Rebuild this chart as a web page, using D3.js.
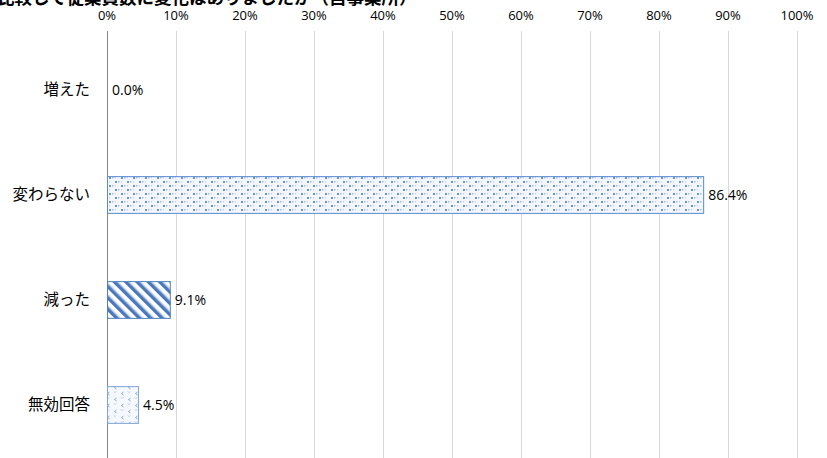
<!DOCTYPE html>
<html>
<head>
<meta charset="utf-8">
<script src="https://cdn.jsdelivr.net/npm/d3@7"></script>
<style>
  body { margin: 0; background: #fff; }
  svg { display: block; }
</style>
</head>
<body>
<div id="chart"></div>
<script>
// data
const categories = ["増えた", "変わらない", "減った", "無効回答"];
const values = [0.0, 86.4, 9.1, 4.5];
const ticks = [0, 10, 20, 30, 40, 50, 60, 70, 80, 90, 100];
const titleText = "比較して従業員数に変化はありましたか（自事業所）";

const width = 827, height = 458;
const plotLeft = 107, plotRight = 797, plotTop = 37.5, plotBottom = 457.5;

const svg = d3.select("#chart").append("svg")
    .attr("width", width)
    .attr("height", height);

// patterns
const defs = svg.append("defs");

const dots = defs.append("pattern")
    .attr("id", "dots").attr("patternUnits", "userSpaceOnUse")
    .attr("width", 12).attr("height", 8);
dots.append("rect").attr("width", 12).attr("height", 8).attr("fill", "#f3f7fc");
dots.append("rect").attr("x", 1).attr("y", 1).attr("width", 2).attr("height", 2).attr("fill", "#6b93cc");
dots.append("rect").attr("x", 7).attr("y", 5).attr("width", 2).attr("height", 2).attr("fill", "#6b93cc");
dots.append("rect").attr("x", 4).attr("y", 1).attr("width", 1.5).attr("height", 1.5).attr("fill", "#a3bde2");
dots.append("rect").attr("x", 10).attr("y", 5).attr("width", 1.5).attr("height", 1.5).attr("fill", "#a3bde2");
dots.append("rect").attr("x", 7).attr("y", 1).attr("width", 1).attr("height", 1.5).attr("fill", "#c0d1ea");
dots.append("rect").attr("x", 1).attr("y", 5).attr("width", 1).attr("height", 1.5).attr("fill", "#c0d1ea");

const stripes = defs.append("pattern")
    .attr("id", "stripes").attr("patternUnits", "userSpaceOnUse")
    .attr("width", 8).attr("height", 8)
    .attr("patternTransform", "rotate(-45)");
stripes.append("rect").attr("width", 8).attr("height", 8).attr("fill", "#ffffff");
stripes.append("rect").attr("x", 0).attr("width", 3.6).attr("height", 8).attr("fill", "#4a78bb");
stripes.append("rect").attr("x", 3.6).attr("width", 0.8).attr("height", 8).attr("fill", "#b5cbe8");

const sparse = defs.append("pattern")
    .attr("id", "sparse").attr("patternUnits", "userSpaceOnUse")
    .attr("width", 14).attr("height", 12);
sparse.append("rect").attr("width", 14).attr("height", 12).attr("fill", "#f5f8fc");
sparse.append("path").attr("d", "M4.5,2 l-2,1.5 l2,1.5").attr("stroke", "#7b9ccf").attr("fill", "none").attr("stroke-width", 0.9);
sparse.append("path").attr("d", "M11.5,8 l-2,1.5 l2,1.5").attr("stroke", "#7b9ccf").attr("fill", "none").attr("stroke-width", 0.9);
sparse.append("path").attr("d", "M9,1.5 l1,1 l1,-1").attr("stroke", "#9ab3dc").attr("fill", "none").attr("stroke-width", 0.8);
sparse.append("path").attr("d", "M2,7.5 l1,1 l1,-1").attr("stroke", "#9ab3dc").attr("fill", "none").attr("stroke-width", 0.8);

const fills = ["url(#dots)", "url(#dots)", "url(#stripes)", "url(#sparse)"];
const strokes = ["#5b8bd0", "#5b8bd0", "#4f80c4", "#7ea4d8"];

// scales
const x = d3.scaleLinear().domain([0, 100]).range([plotLeft, plotRight]);
const y = d3.scaleBand().domain(categories).range([plotTop, plotBottom]).paddingInner(0.65).paddingOuter(0.325);

// title (clipped at the top like the original)
svg.append("text")
    .attr("x", -3).attr("y", 4)
    .attr("font-family", "'Noto Sans CJK JP', sans-serif")
    .attr("font-size", 17.5).attr("font-weight", "bold")
    .attr("fill", "#000")
    .text(titleText);

// gridlines
svg.append("g").selectAll("line")
    .data(ticks)
    .join("line")
    .attr("x1", d => Math.round(x(d)) + 0.5).attr("x2", d => Math.round(x(d)) + 0.5)
    .attr("y1", 31).attr("y2", height)
    .attr("stroke", d => d === 0 ? "#868686" : "#d9d9d9")
    .attr("stroke-width", 1);

// top axis labels
svg.append("g").selectAll("text")
    .data(ticks)
    .join("text")
    .attr("x", d => x(d))
    .attr("y", 20)
    .attr("text-anchor", "middle")
    .attr("font-family", "'Open Sans', sans-serif")
    .attr("font-size", 13)
    .attr("fill", "#000")
    .text(d => d + "%");

// bars
svg.append("g").selectAll("rect")
    .data(values)
    .join("rect")
    .attr("x", x(0) + 0.5)
    .attr("y", (d, i) => y(categories[i]))
    .attr("width", d => Math.max(0, x(d) - x(0)))
    .attr("height", y.bandwidth())
    .attr("fill", (d, i) => fills[i])
    .attr("stroke", (d, i) => d > 0 ? strokes[i] : "none")
    .attr("stroke-width", 1);

// category labels
svg.append("g").selectAll("text")
    .data(categories)
    .join("text")
    .attr("x", 90)
    .attr("y", d => y(d) + y.bandwidth() / 2)
    .attr("dy", "0.35em")
    .attr("text-anchor", "end")
    .attr("font-family", "'Noto Sans CJK JP', sans-serif")
    .attr("font-size", 15.5)
    .attr("fill", "#000")
    .text(d => d);

// value labels
svg.append("g").selectAll("text")
    .data(values)
    .join("text")
    .attr("x", d => x(d) + 5)
    .attr("y", (d, i) => y(categories[i]) + y.bandwidth() / 2)
    .attr("dy", "0.35em")
    .attr("font-family", "'Open Sans', sans-serif")
    .attr("font-size", 14)
    .attr("fill", "#000")
    .text(d => d.toFixed(1) + "%");
</script>
</body>
</html>
